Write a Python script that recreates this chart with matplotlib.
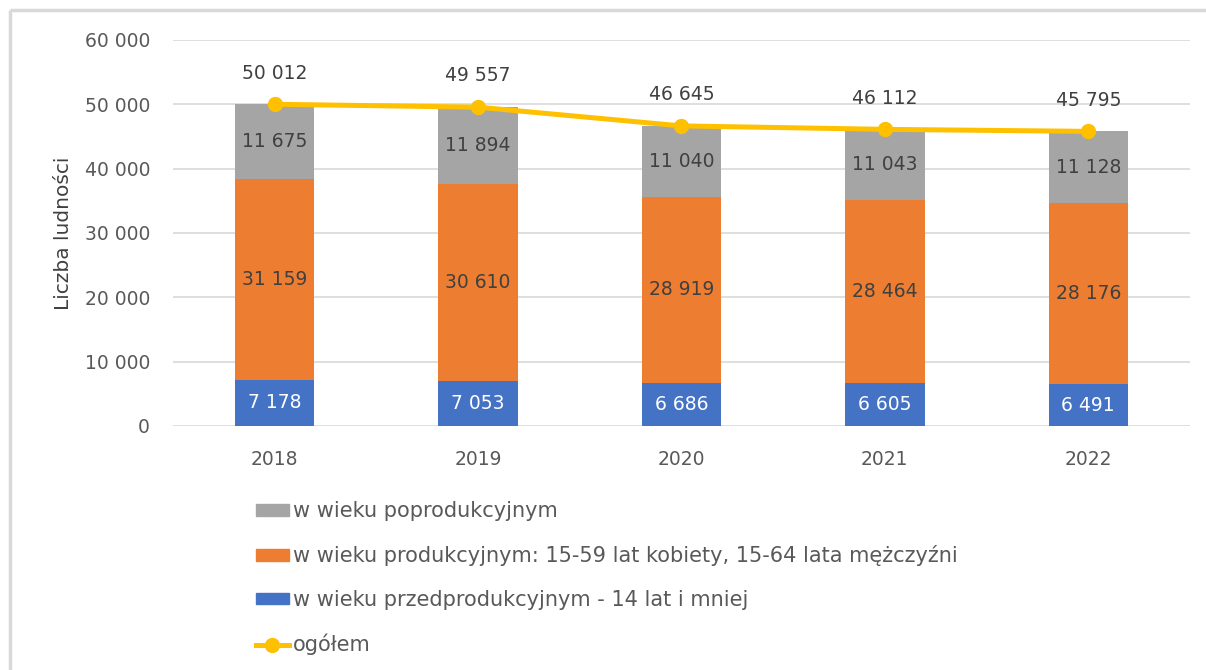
import matplotlib
matplotlib.use("Agg")
import matplotlib.pyplot as plt
from matplotlib.lines import Line2D
import numpy as np

# ── Data ─────────────────────────────────────────────────────────────────────
years = ["2018", "2019", "2020", "2021", "2022"]
przedprod = [7178, 7053, 6686, 6605, 6491]
produkcyjny = [31159, 30610, 28919, 28464, 28176]
poprod = [11675, 11894, 11040, 11043, 11128]
ogolem = [50012, 49557, 46645, 46112, 45795]
yticks = [0, 10000, 20000, 30000, 40000, 50000, 60000]

labels = ["w wieku poprodukcyjnym",
          "w wieku produkcyjnym: 15-59 lat kobiety, 15-64 lata mężczyźni",
          "w wieku przedprodukcyjnym - 14 lat i mniej",
          "ogółem"]

c_blue, c_orange, c_gray, c_yellow = "#4472C4", "#ED7D31", "#A5A5A5", "#FFC000"
txt = "#595959"
fs = 13.5

plt.rcParams["font.family"] = ["DejaVu Sans"]

def fmt(v):
    return f"{v:,}".replace(",", " ")

# ── Figure ───────────────────────────────────────────────────────────────────
fig = plt.figure(figsize=(12.06, 6.70), dpi=100)
ax = fig.add_axes([0.1434, 0.3642, 0.8433, 0.5761])

x = np.arange(len(years))
w = 0.39
ax.bar(x, przedprod, w, color=c_blue, zorder=2)
bot2 = np.array(przedprod)
ax.bar(x, produkcyjny, w, bottom=bot2, color=c_orange, zorder=2)
bot3 = bot2 + np.array(produkcyjny)
ax.bar(x, poprod, w, bottom=bot3, color=c_gray, zorder=2)
ax.plot(x, ogolem, color=c_yellow, lw=3.6, marker="o", ms=10, zorder=3)

# segment labels
for i in range(len(years)):
    ax.text(x[i], przedprod[i] / 2, fmt(przedprod[i]), ha="center", va="center",
            color="white", fontsize=fs, zorder=4)
    ax.text(x[i], bot2[i] + produkcyjny[i] / 2, fmt(produkcyjny[i]), ha="center",
            va="center", color="#404040", fontsize=fs, zorder=4)
    ax.text(x[i], bot3[i] + poprod[i] / 2, fmt(poprod[i]), ha="center",
            va="center", color="#404040", fontsize=fs, zorder=4)
    ax.annotate(fmt(ogolem[i]), (x[i], ogolem[i]), xytext=(0, 22.5),
                textcoords="offset points", ha="center", va="center",
                color="#404040", fontsize=fs, zorder=4)

ax.set_xlim(-0.5, len(years) - 0.5)
ax.set_ylim(0, 60000)
ax.set_yticks(yticks)
ax.set_yticklabels([fmt(v) for v in yticks])
ax.set_xticks(x)
ax.set_xticklabels(years)
ax.tick_params(length=0, colors=txt, labelsize=fs)
ax.tick_params(axis="y", pad=16.5)
ax.tick_params(axis="x", pad=17)
ax.grid(axis="y", color="#D9D9D9", lw=1.2, zorder=0)
ax.set_axisbelow(True)
for s in ax.spines.values():
    s.set_visible(False)
ax.set_ylabel("Liczba ludności", color="#404040", fontsize=14.5, labelpad=8)

# legend
handles = [plt.Rectangle((0, 0), 1, 1, color=c_gray),
           plt.Rectangle((0, 0), 1, 1, color=c_orange),
           plt.Rectangle((0, 0), 1, 1, color=c_blue),
           Line2D([], [], color=c_yellow, lw=3.6, marker="o", ms=10)]
leg = fig.legend(handles, labels, loc="upper left", bbox_to_anchor=(0.205, 0.264),
                 frameon=False, fontsize=15, labelspacing=1.14, handlelength=1.6,
                 handleheight=0.5, handletextpad=0.18, borderaxespad=0)
for t in leg.get_texts():
    t.set_color(txt)

# outer frame (left and top edges visible)
fig.add_artist(Line2D([0.0087, 0.0087], [0.0, 0.985], color="#D9D9D9", lw=2.5,
                      transform=fig.transFigure, solid_capstyle="butt"))
fig.add_artist(Line2D([0.0087, 1.0], [0.985, 0.985], color="#D9D9D9", lw=2.5,
                      transform=fig.transFigure, solid_capstyle="butt"))

fig.savefig("out.png", dpi=100)
